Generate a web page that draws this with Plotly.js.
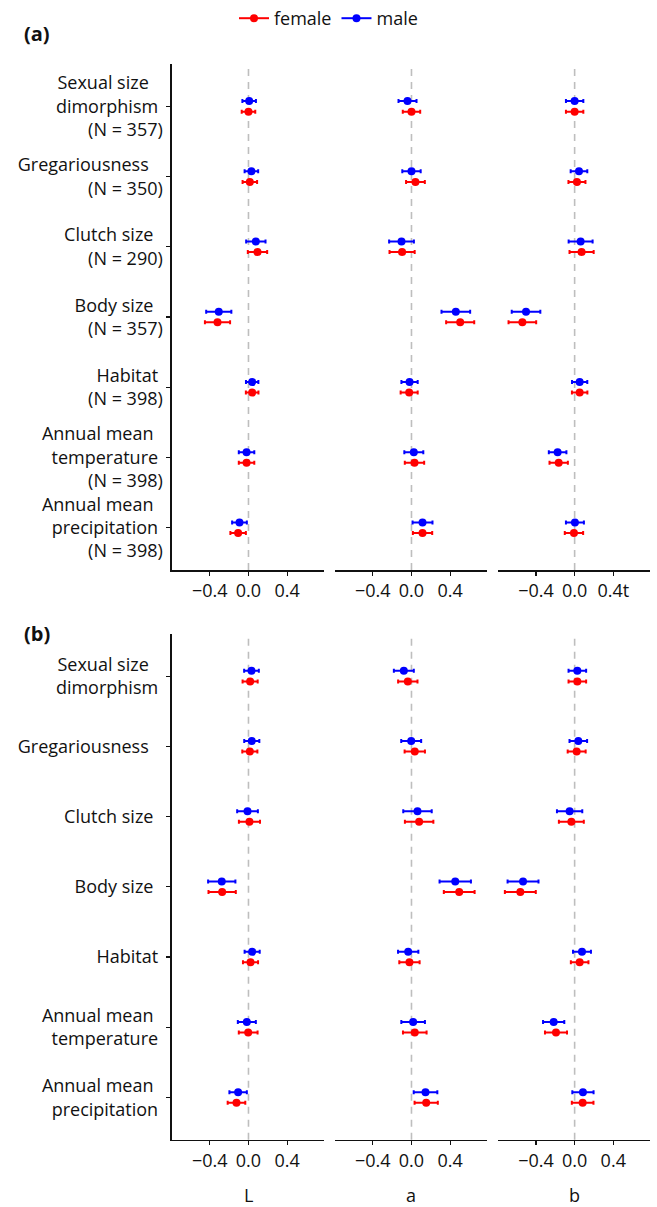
<!DOCTYPE html>
<html>
<head>
<meta charset="utf-8">
<script src="https://cdn.plot.ly/plotly-3.0.1.min.js"></script>
<style>
  html, body { margin: 0; padding: 0; background: #fff; }
  #chart { width: 657px; height: 1207px; }
</style>
</head>
<body>
<div id="chart"></div>
<script>
// Predictors, listed from top to bottom
const categories = [
  "Sexual size dimorphism", "Gregariousness", "Clutch size", "Body size",
  "Habitat", "Annual mean temperature", "Annual mean precipitation"
];
const NB = "\u00a0";
// Tick labels for panel (a), with sample sizes
const labelsA = [
  "Sexual size" + NB.repeat(3) + "<br>dimorphism" + NB + "<br>(N = 357)",
  "Gregariousness" + NB.repeat(3) + "<br>(N = 350)",
  "Clutch size" + NB.repeat(2) + "<br>(N = 290)",
  "Body size" + NB.repeat(2) + "<br>(N = 357)",
  "Habitat" + NB + "<br>(N = 398)",
  "Annual mean" + NB.repeat(2) + "<br>temperature" + NB + "<br>(N = 398)",
  "Annual mean" + NB.repeat(2) + "<br>precipitation" + NB + "<br>(N = 398)"
];
// Tick labels for panel (b)
const labelsB = [
  "Sexual size" + NB.repeat(3) + "<br>dimorphism" + NB,
  "Gregariousness" + NB.repeat(3),
  "Clutch size" + NB.repeat(2),
  "Body size" + NB.repeat(2),
  "Habitat" + NB,
  "Annual mean" + NB.repeat(2) + "<br>temperature" + NB,
  "Annual mean" + NB.repeat(2) + "<br>precipitation" + NB
];
const colourNames = ["L", "a", "b"];
const xTickVals = [-0.4, 0, 0.4];
const xTickTextA = [["\u22120.4", "0.0", "0.4"], ["\u22120.4", "0.0", "0.4"], ["\u22120.4", "0.0", "0.4t"]];
const xTickTextB = ["\u22120.4", "0.0", "0.4"];

// Panel (a): estimates and interval half-widths
const aL_female    = [0.000, 0.014, 0.093, -0.320, 0.038, -0.020, -0.107];
const aL_female_ci = [0.070, 0.075, 0.100, 0.130, 0.065, 0.080, 0.080];
const aL_male      = [0.007, 0.030, 0.076, -0.307, 0.038, -0.020, -0.093];
const aL_male_ci   = [0.070, 0.070, 0.100, 0.130, 0.064, 0.080, 0.076];
const aA_female    = [0.000, 0.041, -0.097, 0.503, -0.024, 0.031, 0.114];
const aA_female_ci = [0.090, 0.097, 0.130, 0.145, 0.088, 0.100, 0.100];
const aA_male      = [-0.041, 0.000, -0.103, 0.458, -0.020, 0.024, 0.114];
const aA_male_ci   = [0.093, 0.095, 0.128, 0.148, 0.084, 0.098, 0.103];
const aB_female    = [0.000, 0.024, 0.072, -0.541, 0.052, -0.165, -0.007];
const aB_female_ci = [0.090, 0.088, 0.125, 0.143, 0.080, 0.095, 0.095];
const aB_male      = [0.000, 0.045, 0.062, -0.503, 0.052, -0.176, 0.003];
const aB_male_ci   = [0.090, 0.086, 0.124, 0.148, 0.079, 0.091, 0.093];

// Panel (b): estimates and interval half-widths
const bL_female    = [0.017, 0.014, 0.010, -0.272, 0.021, -0.003, -0.124];
const bL_female_ci = [0.078, 0.078, 0.109, 0.141, 0.078, 0.097, 0.091];
const bL_male      = [0.031, 0.034, -0.010, -0.276, 0.038, -0.017, -0.107];
const bL_male_ci   = [0.076, 0.078, 0.107, 0.141, 0.078, 0.093, 0.090];
const bA_female    = [-0.038, 0.034, 0.079, 0.493, -0.021, 0.034, 0.152];
const bA_female_ci = [0.100, 0.105, 0.147, 0.159, 0.105, 0.122, 0.120];
const bA_male      = [-0.079, -0.003, 0.062, 0.452, -0.034, 0.017, 0.145];
const bA_male_ci   = [0.103, 0.103, 0.147, 0.162, 0.105, 0.122, 0.122];
const bB_female    = [0.028, 0.021, -0.034, -0.562, 0.052, -0.193, 0.083];
const bB_female_ci = [0.091, 0.093, 0.129, 0.160, 0.091, 0.114, 0.112];
const bB_male      = [0.028, 0.038, -0.052, -0.534, 0.076, -0.217, 0.086];
const bB_male_ci   = [0.091, 0.091, 0.131, 0.160, 0.093, 0.110, 0.110];

const W = 657, H = 1207;
const FONT = "Open Sans, Noto Sans, sans-serif";
const FS = 18;
const RED = "#FF0000", BLUE = "#0000FF";
const DODGE = 0.075;

// categories are plotted top-down: first category at position 7
const pos = categories.map((c, i) => categories.length - i);

const panels = [
  { sets: [[aL_female, aL_female_ci, aL_male, aL_male_ci],
           [aA_female, aA_female_ci, aA_male, aA_male_ci],
           [aB_female, aB_female_ci, aB_male, aB_male_ci]],
    top: 63.3, bottom: 569.4, labels: labelsA },
  { sets: [[bL_female, bL_female_ci, bL_male, bL_male_ci],
           [bA_female, bA_female_ci, bA_male, bA_male_ci],
           [bB_female, bB_female_ci, bB_male, bB_male_ci]],
    top: 633.5, bottom: 1139.6, labels: labelsB }
];
const colX = [[172, 324], [335, 487], [498.3, 650]];

const data = [];
const layout = {
  width: W, height: H,
  margin: { l: 0, r: 0, t: 0, b: 0 },
  paper_bgcolor: "#fff", plot_bgcolor: "#fff",
  font: { family: FONT, size: FS, color: "#111" },
  showlegend: true,
  legend: {
    orientation: "h", x: 0.5, xanchor: "center",
    y: 1 - 18 / H, yanchor: "middle",
    font: { family: FONT, size: FS, color: "#111" },
    bgcolor: "rgba(0,0,0,0)", traceorder: "normal"
  },
  shapes: [], annotations: []
};

let n = 0;
panels.forEach((p, pi) => {
  p.sets.forEach((s, ci) => {
    n += 1;
    const xa = "x" + (n === 1 ? "" : n), ya = "y" + (n === 1 ? "" : n);
    const xKey = "xaxis" + (n === 1 ? "" : n), yKey = "yaxis" + (n === 1 ? "" : n);
    layout[xKey] = {
      domain: [colX[ci][0] / W, colX[ci][1] / W],
      anchor: ya, range: [-0.79, 0.78],
      tickmode: "array", tickvals: xTickVals,
      ticktext: pi === 0 ? xTickTextA[ci] : xTickTextB,
      ticks: "outside", ticklen: 4, tickwidth: 1.2, tickcolor: "#111",
      showline: true, linecolor: "#111", linewidth: 1.6,
      showgrid: false, zeroline: false, fixedrange: true,
      tickfont: { family: FONT, size: FS, color: "#111" }
    };
    const isFirst = ci === 0;
    layout[yKey] = {
      domain: [1 - p.bottom / H, 1 - p.top / H],
      anchor: xa, range: [0.4, 7.6],
      tickmode: "array", tickvals: pos, ticktext: p.labels,
      showticklabels: isFirst, ticks: isFirst ? "outside" : "",
      ticklen: 4, tickwidth: 1.2, tickcolor: "#111",
      showline: isFirst, linecolor: "#111", linewidth: 1.6,
      showgrid: false, zeroline: false, fixedrange: true,
      tickfont: { family: FONT, size: FS, color: "#111" }
    };
    // dashed reference line at zero
    layout.shapes.push({
      type: "line", xref: xa, yref: ya + " domain",
      x0: 0, x1: 0, y0: 0, y1: 1, layer: "below",
      line: { color: "#BEBEBE", width: 1.6, dash: "7px,6px" }
    });
    const [fv, fci, mv, mci] = s;
    data.push({
      type: "scatter", mode: "markers", name: "female", showlegend: false,
      x: fv, y: pos.map(v => v - DODGE), xaxis: xa, yaxis: ya,
      marker: { color: RED, size: 8 },
      error_x: { type: "data", array: fci, color: RED, thickness: 2, width: 2 },
      cliponaxis: false, hoverinfo: "x"
    });
    data.push({
      type: "scatter", mode: "markers", name: "male", showlegend: false,
      x: mv, y: pos.map(v => v + DODGE), xaxis: xa, yaxis: ya,
      marker: { color: BLUE, size: 8 },
      error_x: { type: "data", array: mci, color: BLUE, thickness: 2, width: 2 },
      cliponaxis: false, hoverinfo: "x"
    });
    if (pi === 1) {
      layout.annotations.push({
        text: colourNames[ci], xref: xa + " domain", x: 0.5, xanchor: "center",
        yref: "paper", y: 1 - 1195 / H, yanchor: "middle", showarrow: false,
        font: { family: FONT, size: FS, color: "#111" }
      });
    }
  });
});

// legend keys
[["female", RED], ["male", BLUE]].forEach(([name, col]) => {
  data.push({
    type: "scatter", mode: "lines+markers", name: name,
    x: [null], y: [null], xaxis: "x", yaxis: "y",
    line: { color: col, width: 2 }, marker: { color: col, size: 8 }
  });
});

// panel tags
[["(a)", 33], ["(b)", 633]].forEach(([t, y]) => {
  layout.annotations.push({
    text: "<b>" + t + "</b>", xref: "paper", x: 22 / W, xanchor: "left",
    yref: "paper", y: 1 - y / H, yanchor: "middle", showarrow: false,
    font: { family: FONT, size: 20, color: "#111" }
  });
});

Plotly.newPlot("chart", data, layout, { displayModeBar: false, staticPlot: true });
</script>
</body>
</html>
